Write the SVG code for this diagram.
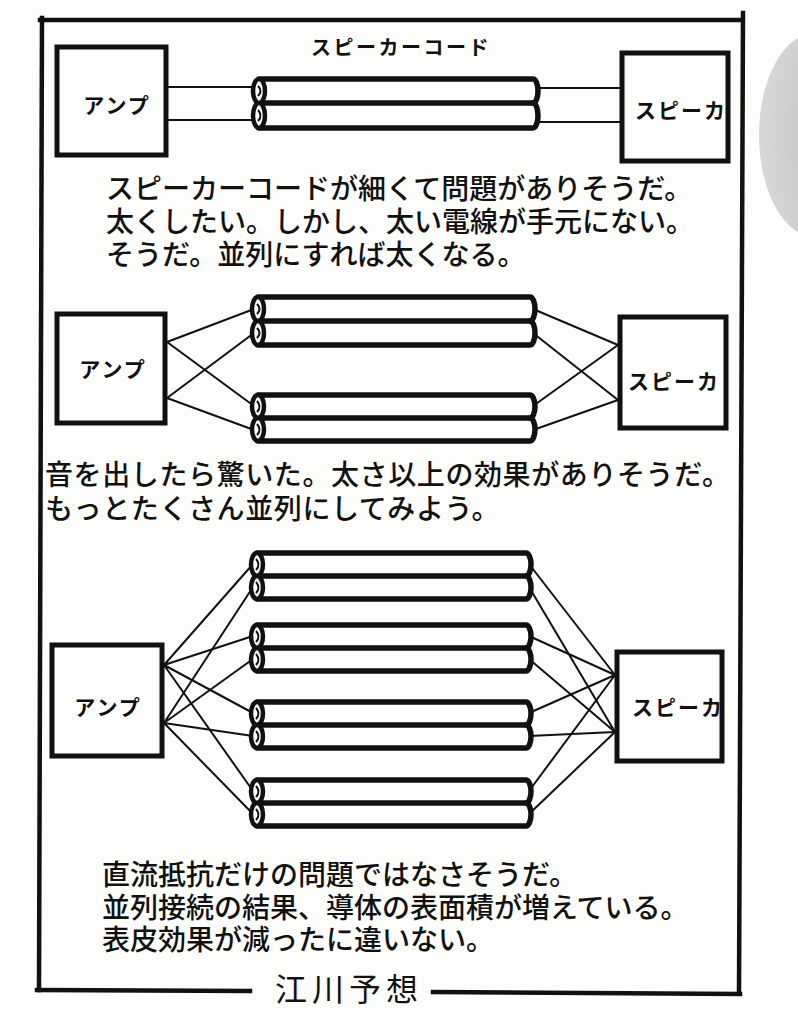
<svg xmlns="http://www.w3.org/2000/svg" width="798" height="1024" viewBox="0 0 798 1024">
<defs>
<radialGradient id="shade" cx="1" cy="0.5" r="1">
<stop offset="0" stop-color="#b4b4b4"/>
<stop offset="1" stop-color="#d8d8d8"/>
</radialGradient>
</defs>
<style>
.frame{fill:none;stroke:#111;stroke-width:4.5;stroke-linecap:square}
.box{fill:#fff;stroke:#111;stroke-width:5}
.tube{fill:#fff;stroke:#111;stroke-width:5.5;stroke-linejoin:round}
.end{fill:#fff;stroke:#111;stroke-width:4.5}
.hole{fill:none;stroke:#111;stroke-width:2}
.wire{fill:none;stroke:#111;stroke-width:2}
.lbl{font-family:"Noto Sans CJK JP","Noto Sans",sans-serif;font-weight:700;font-size:21px;letter-spacing:2px;fill:#111}
.ttl{font-family:"Noto Sans CJK JP","Noto Sans",sans-serif;font-weight:700;font-size:20px;letter-spacing:2.5px;fill:#111}
.body{font-family:"Noto Sans CJK JP","Noto Sans",sans-serif;font-weight:500;font-size:28px;fill:#111}
.sig{font-family:"Noto Sans CJK JP","Noto Sans",sans-serif;font-weight:400;font-size:32px;letter-spacing:5px;fill:#111}
</style>
<rect width="798" height="1024" fill="#fdfdfc"/>
<ellipse cx="815" cy="135" rx="56" ry="102" fill="url(#shade)"/>

<g id="frame">
<path class="frame" d="M40,20 H741"/>
<path class="frame" d="M42,18 L39,990"/>
<path class="frame" d="M743,13 L739,993"/>
<path class="frame" d="M37,990 L250,991"/>
<path class="frame" d="M433,992 L740,994"/>
</g>

<g id="connectors">
<!-- diagram 1 -->
<path class="wire" d="M168,87 H256 M168,120 H256 M536,88 H620 M536,122 H620"/>
<!-- diagram 2 -->
<path class="wire" d="M167,342 L254,309 M167,342 L254,406 M167,398 L254,333 M167,398 L254,430"/>
<path class="wire" d="M533,309 L618,345 M533,406 L618,345 M533,333 L618,400 M533,430 L618,400"/>
<!-- diagram 3 -->
<path class="wire" d="M164,665 L253,564 M164,665 L253,636 M164,665 L253,713 M164,665 L253,791"/>
<path class="wire" d="M164,723 L253,587 M164,723 L253,659 M164,723 L253,736 M164,723 L253,814"/>
<path class="wire" d="M529,564 L615,675 M529,636 L615,675 M529,713 L615,675 M529,791 L615,675"/>
<path class="wire" d="M529,587 L615,732 M529,659 L615,732 M529,736 L615,732 M529,814 L615,732"/>
</g>

<g id="title"><text class="ttl" x="401" y="55" text-anchor="middle">スピーカーコード</text></g>

<g id="amp1"><rect class="box" x="57" y="47" width="109" height="108"/><text class="lbl" x="117" y="113" text-anchor="middle">アンプ</text></g>
<g id="speaker1"><rect class="box" x="622" y="53" width="106" height="108"/><text class="lbl" x="681" y="118" text-anchor="middle">スピーカ</text></g>

<g id="cable1">
<path class="tube" d="M259,79 H533 A5,12 0 0 1 533,103 A5,12.5 0 0 1 533,128 H259 Z"/>
<path class="tube" d="M259,103 H533"/>
<ellipse class="end" cx="259" cy="91" rx="6" ry="12"/><ellipse class="end" cx="259" cy="115.5" rx="6" ry="12.5"/>
<path class="hole" d="M258,86 Q263,91 258,96 M258,110 Q263,115.5 258,121"/>
</g>

<g id="amp2"><rect class="box" x="57" y="314" width="108" height="109"/><text class="lbl" x="113" y="377" text-anchor="middle">アンプ</text></g>
<g id="speaker2"><rect class="box" x="620" y="317" width="106" height="111"/><text class="lbl" x="674" y="389" text-anchor="middle">スピーカ</text></g>

<g id="cable2a">
<path class="tube" d="M258,297 H530 A5,12 0 0 1 530,321 A5,12 0 0 1 530,345 H258 Z"/>
<path class="tube" d="M258,321 H530"/>
<ellipse class="end" cx="258" cy="309" rx="6" ry="12"/><ellipse class="end" cx="258" cy="333" rx="6" ry="12"/>
<path class="hole" d="M257,304 Q262,309 257,314 M257,328 Q262,333 257,338"/>
</g>
<g id="cable2b">
<path class="tube" d="M258,395 H530 A5,11.5 0 0 1 530,418 A5,11.5 0 0 1 530,441 H258 Z"/>
<path class="tube" d="M258,418 H530"/>
<ellipse class="end" cx="258" cy="406.5" rx="6" ry="11.5"/><ellipse class="end" cx="258" cy="429.5" rx="6" ry="11.5"/>
<path class="hole" d="M257,401 Q262,406.5 257,412 M257,424 Q262,429.5 257,435"/>
</g>

<g id="amp3"><rect class="box" x="52" y="645" width="110" height="111"/><text class="lbl" x="108" y="715" text-anchor="middle">アンプ</text></g>
<g id="speaker3"><rect class="box" x="617" y="652" width="105" height="109"/><text class="lbl" x="678" y="715" text-anchor="middle">スピーカ</text></g>

<g id="cable3a">
<path class="tube" d="M257,553 H526 A5,11.5 0 0 1 526,576 A5,11.5 0 0 1 526,599 H257 Z"/>
<path class="tube" d="M257,576 H526"/>
<ellipse class="end" cx="257" cy="564.5" rx="6" ry="11.5"/><ellipse class="end" cx="257" cy="587.5" rx="6" ry="11.5"/>
<path class="hole" d="M256,559 Q261,564.5 256,570 M256,582 Q261,587.5 256,593"/>
</g>
<g id="cable3b">
<path class="tube" d="M257,625 H526 A5,11.5 0 0 1 526,648 A5,11.5 0 0 1 526,671 H257 Z"/>
<path class="tube" d="M257,648 H526"/>
<ellipse class="end" cx="257" cy="636.5" rx="6" ry="11.5"/><ellipse class="end" cx="257" cy="659.5" rx="6" ry="11.5"/>
<path class="hole" d="M256,631 Q261,636.5 256,642 M256,654 Q261,659.5 256,665"/>
</g>
<g id="cable3c">
<path class="tube" d="M257,702 H526 A5,11.5 0 0 1 526,725 A5,11.5 0 0 1 526,748 H257 Z"/>
<path class="tube" d="M257,725 H526"/>
<ellipse class="end" cx="257" cy="713.5" rx="6" ry="11.5"/><ellipse class="end" cx="257" cy="736.5" rx="6" ry="11.5"/>
<path class="hole" d="M256,708 Q261,713.5 256,719 M256,731 Q261,736.5 256,742"/>
</g>
<g id="cable3d">
<path class="tube" d="M257,780 H526 A5,11.5 0 0 1 526,803 A5,11.5 0 0 1 526,826 H257 Z"/>
<path class="tube" d="M257,803 H526"/>
<ellipse class="end" cx="257" cy="791.5" rx="6" ry="11.5"/><ellipse class="end" cx="257" cy="814.5" rx="6" ry="11.5"/>
<path class="hole" d="M256,786 Q261,791.5 256,797 M256,809 Q261,814.5 256,820"/>
</g>

<g id="text1">
<text class="body" x="106" y="199">スピーカーコードが細くて問題がありそうだ。</text>
<text class="body" x="106" y="232">太くしたい。しかし、太い電線が手元にない。</text>
<text class="body" x="106" y="265">そうだ。並列にすれば太くなる。</text>
</g>
<g id="text2">
<text class="body" x="45" y="485" letter-spacing="0.6">音を出したら驚いた。太さ以上の効果がありそうだ。</text>
<text class="body" x="45" y="519" letter-spacing="0.6">もっとたくさん並列にしてみよう。</text>
</g>
<g id="text3">
<text class="body" x="102" y="885">直流抵抗だけの問題ではなさそうだ。</text>
<text class="body" x="102" y="918">並列接続の結果、導体の表面積が増えている。</text>
<text class="body" x="102" y="950">表皮効果が減ったに違いない。</text>
</g>
<g id="signature"><text class="sig" x="275" y="1001">江川予想</text></g>
</svg>
